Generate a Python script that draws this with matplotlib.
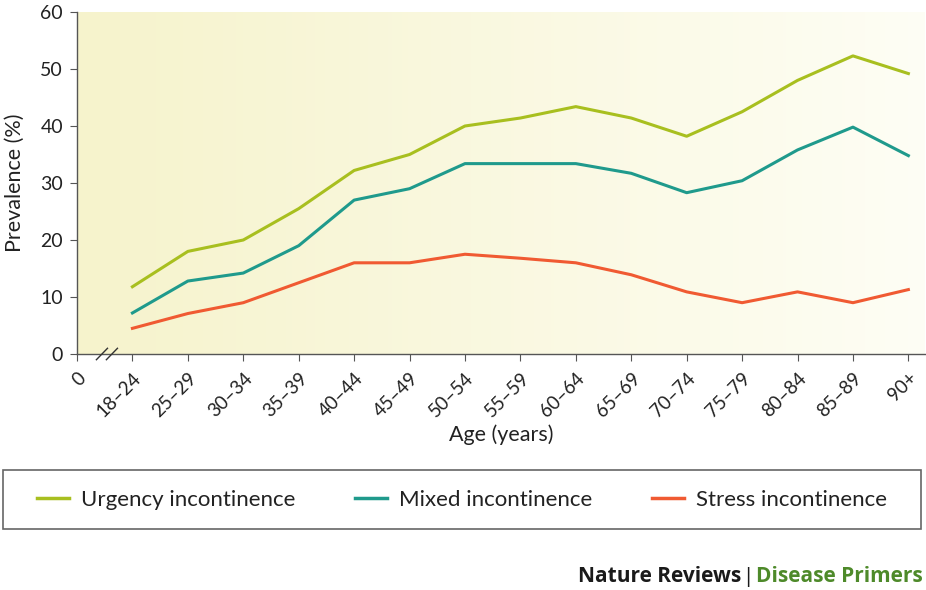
import numpy as np
import matplotlib.pyplot as plt
from matplotlib.lines import Line2D
from matplotlib.patches import Rectangle

plt.rcParams['font.family'] = ['Lato', 'DejaVu Sans']

# Data
age_groups = ['18–24', '25–29', '30–34', '35–39', '40–44', '45–49', '50–54',
              '55–59', '60–64', '65–69', '70–74', '75–79', '80–84', '85–89', '90+']
urgency = [11.8, 18.0, 20.0, 25.5, 32.2, 35.0, 40.0, 41.4, 43.4, 41.4, 38.2, 42.5, 48.0, 52.3, 49.2]
mixed = [7.2, 12.8, 14.2, 19.0, 27.0, 29.0, 33.4, 33.4, 33.4, 31.7, 28.3, 30.4, 35.8, 39.8, 34.8]
stress = [4.5, 7.1, 9.0, 12.5, 16.0, 16.0, 17.5, 16.8, 16.0, 13.9, 10.9, 9.0, 10.9, 9.0, 11.3]
series_names = ['Urgency incontinence', 'Mixed incontinence', 'Stress incontinence']
colors = ['#a8bf1f', '#1f9a8c', '#f05a32']

W, H = 926, 590
fig = plt.figure(figsize=(W / 100, H / 100), dpi=100)
ax = fig.add_axes([77 / W, 1 - 354 / H, 848 / W, 342 / H])

# pale yellow gradient background
grad = np.linspace(0, 1, 256).reshape(1, -1)
c0 = np.array([0.965, 0.953, 0.800])
c1 = np.array([0.995, 0.995, 0.960])
img = c0[None, None, :] * (1 - grad[..., None]) + c1[None, None, :] * grad[..., None]
ax.imshow(img, extent=[0, 1, 0, 1], transform=ax.transAxes, aspect='auto', zorder=0)

x = np.arange(1, len(age_groups) + 1)
for vals, c in zip([urgency, mixed, stress], colors):
    ax.plot(x, vals, color=c, lw=2.2, zorder=3)

ax.set_xlim(0, 15.3)
ax.set_ylim(0, 60)
ax.set_xticks(np.arange(0, 16))
ax.set_xticklabels(['0'] + age_groups, rotation=45, ha='right', va='top',
                   rotation_mode='anchor', fontsize=13.5, color='#222222')
ax.set_yticks(range(0, 61, 10))
ax.tick_params(axis='y', labelsize=14, length=5, color='#555555', pad=5,
               labelcolor='#222222')
ax.tick_params(axis='x', length=5, color='#555555', pad=6)
for s in ['top', 'right']:
    ax.spines[s].set_visible(False)
for s in ['left', 'bottom']:
    ax.spines[s].set_color('#555555')
    ax.spines[s].set_linewidth(1.0)
ax.set_xlabel('Age (years)', fontsize=15.5, labelpad=3, color='#222222')
ax.set_ylabel('Prevalence (%)', fontsize=15.5, labelpad=11, color='#222222')

# axis break mark
for dx in (0, 0.18):
    ax.plot([0.35 + dx, 0.55 + dx], [-1.0, 1.0], color='#333333', lw=1.0,
            clip_on=False, zorder=5)

# legend box
fig.patches.append(Rectangle((3 / W, 1 - 529 / H), 918 / W, 59 / H,
                             transform=fig.transFigure, fill=False,
                             edgecolor='#666666', lw=1.2))
handles = [Line2D([0], [0], color=c, lw=2.5) for c in colors]
fig.legend(handles, series_names, loc='center', ncol=3,
           bbox_to_anchor=(462 / W, 1 - 499.5 / H), fontsize=16,
           frameon=False, handlelength=1.44, handletextpad=0.54,
           columnspacing=2.7, labelcolor='#222222')

fy = 1 - 577 / H
fig.text(741 / W, fy, 'Nature Reviews', fontsize=15, fontweight='bold',
         ha='right', va='center', color='#1a1a1a', family='Open Sans')
fig.text(748 / W, fy, '|', fontsize=15, ha='center', va='center', color='#1a1a1a')
fig.text(923 / W, fy, 'Disease Primers', fontsize=15, fontweight='bold',
         ha='right', va='center', color='#4e8a2a', family='Open Sans')

fig.savefig('out.png', dpi=100)
